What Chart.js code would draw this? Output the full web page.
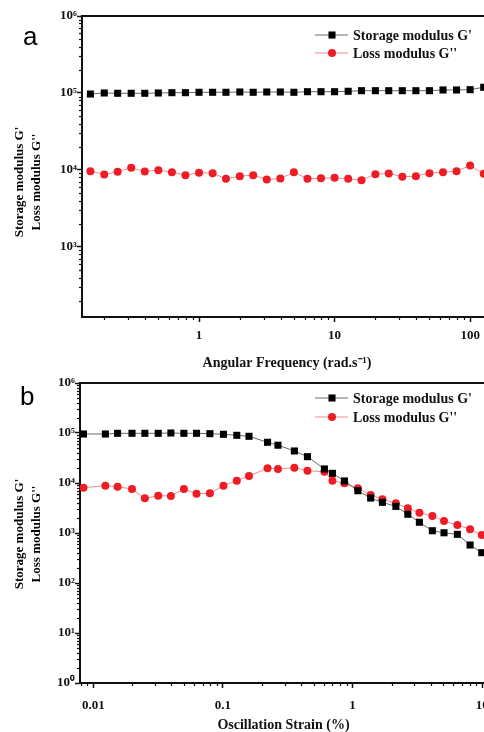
<!DOCTYPE html>
<html>
<head>
<meta charset="utf-8">
<script src="https://cdn.jsdelivr.net/npm/chart.js@4.4.1/dist/chart.umd.min.js"></script>
<style>
  html, body { margin: 0; padding: 0; background: #fff; overflow: hidden; width: 484px; height: 732px; }
  canvas { display: block; }
</style>
</head>
<body>
<canvas id="chartA" width="500" height="370"></canvas>
<canvas id="chartB" width="500" height="362"></canvas>
<script>
// panel a - frequency sweep
const freqA = [0.158, 0.2, 0.251, 0.316, 0.398, 0.501, 0.631, 0.794, 1, 1.26, 1.58, 2, 2.51, 3.16, 3.98,
  5.01, 6.31, 7.94, 10, 12.6, 15.8, 20, 25.1, 31.6, 39.8, 50.1, 63.1, 79.4, 100, 126];
const storageA = [97000, 100000, 99100, 99100, 99100, 100000, 100900, 100900, 102100, 102100, 102100, 103000, 102100, 103000, 103000,
  102100, 103900, 103900, 103900, 105200, 107100, 107100, 107100, 107100, 107100, 107100, 109400, 109400, 110400, 118600];
const lossA = [9650, 8740, 9480, 10700, 9560, 9940, 9360, 8560, 9200, 9090, 7690, 8310, 8560, 7530, 7730,
  9360, 7690, 7830, 7920, 7690, 7370, 8820, 9010, 8160, 8310, 9090, 9360, 9650, 11400, 8930];

// panel b - strain sweep
const strainB = [0.0084, 0.0124, 0.0154, 0.0199, 0.025, 0.0317, 0.0397, 0.05, 0.0626, 0.0794, 0.101, 0.128, 0.159, 0.221, 0.266,
  0.356, 0.449, 0.607, 0.70, 0.866, 1.10, 1.38, 1.70, 2.16, 2.67, 3.28, 4.13, 5.08, 6.44, 8.07, 9.93];
const storageB = [95500, 95500, 98600, 98600, 98600, 98600, 100000, 98600, 98600, 97000, 94200, 89900, 85900, 65200, 57000,
  43700, 33600, 19100, 15600, 11000, 7000, 5000, 4100, 3400, 2370, 1640, 1110, 1010, 940, 575, 404];
const lossB = [8060, 8830, 8430, 7590, 4940, 5570, 5500, 7590, 6110, 6220, 8830, 11100, 13800, 19700, 19100,
  20200, 17600, 16800, 11100, 9860, 7830, 5750, 4720, 3930, 3120, 2550, 2190, 1740, 1450, 1190, 912];

// tick labels
const freqTicks = [1, 10, 100];
const modTicksA = [1e3, 1e4, 1e5, 1e6];
const strainTicks = [0.01, 0.1, 1, 10];
const modTicksB = [1e0, 1e1, 1e2, 1e3, 1e4, 1e5, 1e6];
const seriesLabels = ["Storage modulus G'", "Loss modulus G''"];
const xTitleA = 'Angular Frequency (rad.s\u207B\u00B9)';
const xTitleB = 'Oscillation Strain (%)';

const SERIF = '"Liberation Serif", "Times New Roman", serif';
const SUP = {'0': '\u2070', '1': '\u00B9', '2': '\u00B2', '3': '\u00B3', '4': '\u2074', '5': '\u2075', '6': '\u2076'};

function powLabel(v){
  const e = Math.round(Math.log10(v));
  return '10' + SUP[String(e)];
}

function plainLabel(v){
  return String(+v.toPrecision(3));
}

// frame, minor ticks, legend, panel letter, side title
const decor = {
  id: 'decor',
  afterDraw(chart, args, o){
    const ctx = chart.ctx;
    const {left, right, top, bottom} = chart.chartArea;
    ctx.save();
    ctx.strokeStyle = '#111';
    ctx.lineWidth = 2;
    ctx.beginPath();
    ctx.moveTo(left - 1, top); ctx.lineTo(right, top); ctx.lineTo(right, bottom);
    ctx.stroke();

    ctx.lineWidth = 1.2;
    for(const id of ['x', 'y']){
      const s = chart.scales[id];
      const majors = o.majors[id];
      const vals = [];
      [majors[0] / 10, ...majors].forEach(m => { for(let k = 2; k < 10; k++) vals.push(m * k); });
      vals.filter(v => v > s.min && v < s.max).forEach(v => {
        const p = Math.round(s.getPixelForValue(v)) + 0.5;
        ctx.beginPath();
        if(id === 'x'){ ctx.moveTo(p, bottom); ctx.lineTo(p, bottom + 3); }
        else { ctx.moveTo(left, p); ctx.lineTo(left - 3, p); }
        ctx.stroke();
      });
    }

    // panel letter
    ctx.fillStyle = '#000';
    ctx.font = '26px "Liberation Sans", Arial, sans-serif';
    ctx.textAlign = 'left';
    ctx.textBaseline = 'alphabetic';
    ctx.fillText(o.letter, o.letterX, o.letterY);

    // y title (two lines)
    ctx.save();
    ctx.translate(o.titleX, o.titleY);
    ctx.rotate(-Math.PI / 2);
    ctx.font = 'bold 13px ' + SERIF;
    ctx.textAlign = 'center';
    ctx.textBaseline = 'middle';
    ctx.fillText(seriesLabels[0], 0, 0);
    ctx.fillText(seriesLabels[1], 0, 17);
    ctx.restore();

    // legend
    chart.data.datasets.forEach((ds, i) => {
      const y = o.legendY[i];
      ctx.strokeStyle = ds.borderColor;
      ctx.lineWidth = 1;
      ctx.beginPath();
      ctx.moveTo(o.legendX, y); ctx.lineTo(o.legendX + 33, y);
      ctx.stroke();
      ctx.fillStyle = ds.pointBackgroundColor;
      ctx.strokeStyle = ds.pointBackgroundColor;
      Chart.helpers.drawPoint(ctx, {pointStyle: ds.pointStyle, radius: ds.pointRadius, rotation: 0, borderWidth: 0}, o.legendX + 17, y);
      ctx.fillStyle = '#111';
      ctx.font = 'bold 14px ' + SERIF;
      ctx.textBaseline = 'middle';
      ctx.fillText(ds.label, o.legendX + 38, y + 1);
    });
    ctx.restore();
  }
};

function makeDatasets(xs, g1, g2){
  return [
    {
      label: seriesLabels[0],
      data: xs.map((x, i) => ({x, y: g1[i]})),
      borderColor: '#6a6a6a', borderWidth: 1,
      pointStyle: 'rect', pointRadius: 5, pointBorderWidth: 0,
      pointBackgroundColor: '#000', pointBorderColor: '#000',
      tension: 0, clip: false
    },
    {
      label: seriesLabels[1],
      data: xs.map((x, i) => ({x, y: g2[i]})),
      borderColor: '#f58a8a', borderWidth: 1,
      pointStyle: 'circle', pointRadius: 4, pointBorderWidth: 0,
      pointBackgroundColor: '#ee1c25', pointBorderColor: '#ee1c25',
      tension: 0, clip: false
    }
  ];
}

function makeChart(id, cfg){
  const tickFont = {family: SERIF, size: 13, weight: 'bold'};
  return new Chart(document.getElementById(id), {
    type: 'line',
    data: {datasets: makeDatasets(cfg.xs, cfg.g1, cfg.g2)},
    plugins: [decor],
    options: {
      responsive: false,
      animation: false,
      devicePixelRatio: 1,
      layout: {padding: {left: 0, top: cfg.top, right: cfg.right, bottom: 0}},
      plugins: {
        legend: {display: false},
        tooltip: {enabled: false},
        decor: cfg.decor
      },
      scales: {
        x: {
          type: 'logarithmic',
          min: cfg.xMin, max: cfg.xMax,
          afterBuildTicks: s => { s.ticks = cfg.xTicks.map(v => ({value: v})); },
          afterFit: s => { s.height = cfg.xHeight; },
          border: {color: '#111', width: 2},
          grid: {drawOnChartArea: false, tickLength: 5, tickWidth: 1.5, tickColor: '#111'},
          ticks: {font: tickFont, color: '#111', padding: cfg.xPad, autoSkip: false, maxRotation: 0, callback: v => plainLabel(v)},
          title: {display: true, text: cfg.xTitle, color: '#111', font: {family: SERIF, size: 14, weight: 'bold', lineHeight: 1}, padding: 0}
        },
        y: {
          type: 'logarithmic',
          min: cfg.yMin, max: cfg.yMax,
          afterBuildTicks: s => { s.ticks = cfg.yTicks.map(v => ({value: v})); },
          afterFit: s => { s.width = cfg.yWidth; },
          border: {color: '#111', width: 2},
          grid: {drawOnChartArea: false, tickLength: 5, tickWidth: 1.5, tickColor: '#111'},
          ticks: {font: tickFont, color: '#111', padding: 0, autoSkip: false, callback: v => powLabel(v)}
        }
      }
    }
  });
}

makeChart('chartA', {
  xs: freqA, g1: storageA, g2: lossA,
  xMin: 0.137, xMax: 145, yMin: 123, yMax: 1e6,
  xTicks: freqTicks, yTicks: modTicksA,
  top: 16, right: 8, xHeight: 53, yWidth: 82, xPad: 6,
  xTitle: xTitleA,
  decor: {
    majors: {x: freqTicks, y: modTicksA},
    letter: 'a', letterX: 23, letterY: 45,
    titleX: 20, titleY: 182,
    legendX: 315, legendY: [35, 53]
  }
});

makeChart('chartB', {
  xs: strainB, g1: storageB, g2: lossB,
  xMin: 0.0079, xMax: 10.9, yMin: 1, yMax: 1e6,
  xTicks: strainTicks, yTicks: modTicksB,
  top: 13, right: 13, xHeight: 49, yWidth: 80, xPad: 10,
  xTitle: xTitleB,
  decor: {
    majors: {x: strainTicks, y: modTicksB},
    letter: 'b', letterX: 20, letterY: 35,
    titleX: 20, titleY: 164,
    legendX: 315, legendY: [28, 47]
  }
});
</script>
</body>
</html>
